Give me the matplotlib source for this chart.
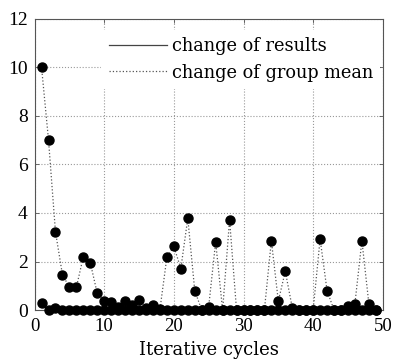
import matplotlib
matplotlib.use('Agg')
import matplotlib.pyplot as plt
from matplotlib.lines import Line2D

# ========== 数据 ==========
cycles = list(range(1, 50))
group_mean = [10.0, 7.0, 3.22, 1.46, 0.94, 0.94, 2.2, 1.95, 0.69, 0.39,
              0.33, 0.14, 0.39, 0.2, 0.43, 0.1, 0.2, 0.03, 2.18, 2.62,
              1.71, 3.78, 0.8, 0.0, 0.14, 2.81, 0.0, 3.72, 0.0, 0.0,
              0.0, 0.0, 0.0, 2.86, 0.37, 1.6, 0.1, 0.0, 0.0, 0.0,
              2.93, 0.8, 0.0, 0.0, 0.16, 0.27, 2.86, 0.27, 0.0]
results = [0.28, 0.0, 0.07] + [0.0] * 46

x_ticks = [0, 10, 20, 30, 40, 50]
y_ticks = [0, 2, 4, 6, 8, 10, 12]

plt.rcParams['font.family'] = ['Liberation Serif', 'DejaVu Serif']

fig = plt.figure(figsize=(3.93, 3.64), dpi=100)
ax = fig.add_axes([0.088, 0.148, 0.886, 0.801])

ax.plot(cycles, group_mean, linestyle=':', color='#555555', linewidth=0.9,
        marker='o', markersize=6.5, markerfacecolor='black',
        markeredgecolor='black', clip_on=False, zorder=3)
ax.plot(cycles, results, linestyle='-', color='black', linewidth=0.9,
        marker='o', markersize=6.5, markerfacecolor='black',
        markeredgecolor='black', clip_on=False, zorder=4)

ax.set_xlim(0, 50)
ax.set_ylim(0, 12)
ax.set_xticks(x_ticks)
ax.set_yticks(y_ticks)
ax.grid(True, linestyle=':', color='#999999', linewidth=0.8)
ax.tick_params(direction='in', top=True, right=True, labelsize=14,
               length=3, width=0.6, color='#555555')
ax.tick_params(axis='x', pad=6, labelsize=13.5)
ax.tick_params(axis='y', pad=5)
for s in ax.spines.values():
    s.set_color('#555555')
    s.set_linewidth(0.8)

ax.set_xlabel('Iterative cycles', fontsize=13, family='DejaVu Serif', labelpad=4)

handles = [Line2D([], [], color='#444444', linestyle='-', linewidth=0.9),
           Line2D([], [], color='#555555', linestyle=':', linewidth=0.9)]
leg = ax.legend(handles, ['change of results', 'change of group mean'],
                loc='upper left', bbox_to_anchor=(0.192, 0.962),
                prop={'family': 'DejaVu Serif', 'size': 12.8}, frameon=True,
                handlelength=3.3, handletextpad=0.25, labelspacing=0.5,
                borderaxespad=0.0, borderpad=0.4, fancybox=False)
leg.get_frame().set_edgecolor('none')
leg.get_frame().set_facecolor('white')
leg.get_frame().set_alpha(1)

fig.savefig('out.png', dpi=100)
